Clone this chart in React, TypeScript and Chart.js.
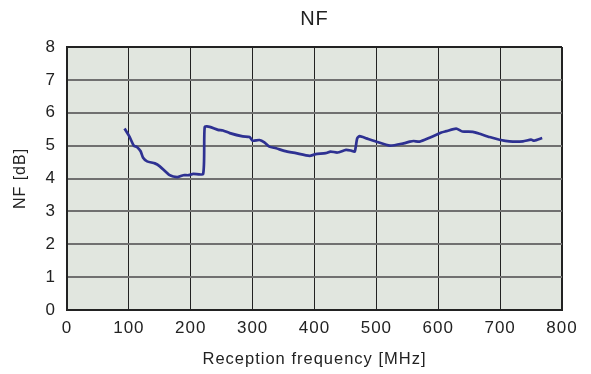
import React, { useEffect, useRef } from "react";
import { Chart, registerables } from "chart.js";

Chart.register(...registerables);

const freqMHz = [93, 101, 108, 113, 119, 123, 129.5, 142, 150, 166, 178, 188, 196, 204, 220, 222.6, 230.6, 244, 252, 263, 284, 295, 300, 311, 319, 327, 338, 351, 370, 392, 402, 418, 426, 437, 451, 459, 465, 469, 473, 484, 500, 522, 544, 554, 560, 570, 586, 597, 605, 613, 629, 639, 656, 667, 683, 699, 715, 737, 750, 755, 768];
const nfDb = [5.52, 5.27, 5.0, 4.96, 4.83, 4.63, 4.52, 4.46, 4.37, 4.1, 4.04, 4.1, 4.1, 4.14, 4.14, 5.57, 5.57, 5.48, 5.46, 5.38, 5.28, 5.26, 5.15, 5.17, 5.1, 4.97, 4.92, 4.84, 4.77, 4.69, 4.74, 4.77, 4.82, 4.79, 4.87, 4.85, 4.82, 5.22, 5.29, 5.22, 5.12, 5.0, 5.07, 5.12, 5.14, 5.12, 5.24, 5.33, 5.4, 5.44, 5.52, 5.43, 5.42, 5.36, 5.26, 5.18, 5.13, 5.13, 5.18, 5.15, 5.23];

const chartTitle = "NF";
const xTitle = "Reception frequency [MHz]";
const yTitle = "NF [dB]";

const setSpacing = (chart: any) => {
  const ctx = chart.ctx as any;
  if (ctx && "letterSpacing" in ctx) ctx.letterSpacing = "1px";
};

const spacingPlugin = {
  id: "spacing",
  beforeUpdate: setSpacing,
  beforeLayout: setSpacing,
  beforeDraw: setSpacing,
};

const bgPlugin = {
  id: "plotBg",
  beforeDraw(chart: any) {
    const { ctx, chartArea } = chart;
    if (!chartArea) return;
    ctx.save();
    ctx.fillStyle = "#e1e6df";
    ctx.fillRect(chartArea.left, chartArea.top, chartArea.right - chartArea.left, chartArea.bottom - chartArea.top);
    ctx.restore();
  },
};

export default function App() {
  const ref = useRef<HTMLCanvasElement | null>(null);
  useEffect(() => {
    if (!ref.current) return;
    const font = { family: "'Liberation Sans', Arial, sans-serif" };
    const chart = new Chart(ref.current, {
      type: "line",
      data: {
        datasets: [
          {
            data: freqMHz.map((f, i) => ({ x: f, y: nfDb[i] })),
            borderColor: "#2e3192",
            borderWidth: 2.7,
            pointRadius: 0,
            tension: 0.2,
            fill: false,
          },
        ],
      },
      options: {
        animation: false,
        responsive: false,
        devicePixelRatio: 1,
        layout: { padding: { top: 0, right: 29, left: 0, bottom: 0 } },
        plugins: {
          legend: { display: false },
          tooltip: { enabled: false },
          title: {
            display: true,
            text: chartTitle,
            color: "#222",
            fullSize: false,
            font: { ...font, size: 20, weight: "normal" },
            padding: { top: 7, bottom: 16 },
          },
        },
        scales: {
          x: {
            type: "linear",
            min: 0,
            max: 800,
            ticks: { stepSize: 100, color: "#222", font: { ...font, size: 17 }, padding: 8 },
            grid: {
              drawTicks: false,
              color: "#222",
              lineWidth: (c: any) => (c.tick && (c.tick.value === 800 || c.tick.value === 0) ? 2 : 1),
            },
            border: { color: "#222", width: 2 },
            title: {
              display: true,
              text: xTitle,
              color: "#222",
              font: { ...font, size: 16.5 },
              padding: { top: 0, bottom: 5 },
            },
            afterFit: (s: any) => {
              s.height = 64;
            },
          },
          y: {
            min: 0,
            max: 8,
            ticks: { stepSize: 1, color: "#222", font: { ...font, size: 17 }, padding: 11 },
            grid: {
              drawTicks: false,
              color: (c: any) => (c.tick && (c.tick.value === 8 || c.tick.value === 0) ? "#222" : "#707070"),
              lineWidth: 2,
            },
            border: { color: "#222", width: 2 },
            title: {
              display: true,
              text: yTitle,
              color: "#222",
              font: { ...font, size: 16 },
              padding: { top: 11, bottom: 0 },
            },
            afterFit: (s: any) => {
              s.width = 67;
            },
          },
        },
      },
      plugins: [spacingPlugin, bgPlugin],
    } as any);
    return () => chart.destroy();
  }, []);
  return (
    <div style={{ position: "fixed", left: 0, top: 0, width: 591, height: 374, background: "#fff" }}>
      <canvas ref={ref} width={591} height={374} style={{ display: "block", width: 591, height: 374 }} />
    </div>
  );
}
